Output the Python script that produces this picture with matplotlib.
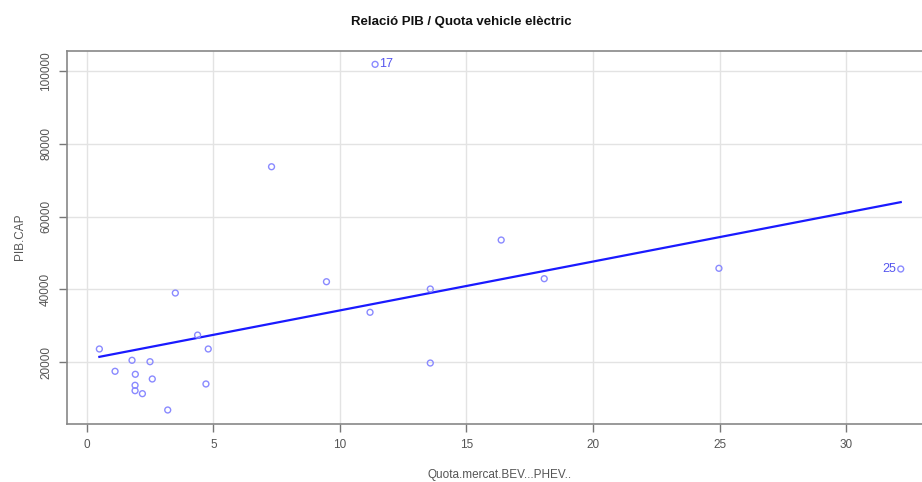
import numpy as np
import matplotlib
matplotlib.use('Agg')
from matplotlib import pyplot as plt

plt.rcParams['font.family'] = ['Liberation Sans', 'DejaVu Sans']

# quota de mercat BEV+PHEV (%) i PIB per capita
quota = [0.50, 1.12, 1.79, 1.92, 1.91, 1.91, 2.20, 2.50, 2.59, 3.20, 3.50, 4.38,
         4.80, 4.71, 7.30, 9.47, 11.19, 11.39, 13.57, 13.57, 16.37, 18.07, 24.97, 32.15]
pib_cap = [23650, 17530, 20550, 16710, 13690, 12210, 11390, 20160, 15420, 6910, 39010, 27470,
           23650, 14050, 73660, 42110, 33720, 101760, 40110, 19800, 53550, 42940, 45790, 45600]
# punts etiquetats: (posicio a les llistes, text, costat)
etiquetes = [(17, '17', 'right'), (23, '25', 'left')]

x_ticks = [0, 5, 10, 15, 20, 25, 30]
y_ticks = [20000, 40000, 60000, 80000, 100000]

quota = np.array(quota)
pib_cap = np.array(pib_cap)

figure = plt.figure(figsize=(9.22, 4.82), dpi=100)
axes = figure.add_axes([0.073, 0.1207, 0.9387, 0.7745])

gray_grid = '#e3e3e3'
for t in x_ticks:
    axes.axvline(t, color=gray_grid, lw=1, zorder=0)
for t in y_ticks:
    axes.axhline(t, color=gray_grid, lw=1, zorder=0)

axes.scatter(quota, pib_cap, s=18, facecolors='none', edgecolors='#8a8aff', linewidths=1, zorder=3)

# recta de regressio
slope, intercept = np.polyfit(quota, pib_cap, 1)
xs = np.array([quota.min(), quota.max()])
axes.plot(xs, intercept + slope * xs, color='#1a1aff', lw=1.6, zorder=2)

for pos, text, side in etiquetes:
    xv, yv = quota[pos], pib_cap[pos]
    if side == 'right':
        axes.annotate(text, (xv, yv), xytext=(3, 0), textcoords='offset points',
                      ha='left', va='center', color='#5555ee', fontsize=9)
    else:
        axes.annotate(text, (xv, yv), xytext=(-3, 0), textcoords='offset points',
                      ha='right', va='center', color='#5555ee', fontsize=9)

pad_x = 0.04 * (quota.max() - quota.min())
pad_y = 0.04 * (pib_cap.max() - pib_cap.min())
axes.set_xlim(quota.min() - pad_x, quota.max() + pad_x)
axes.set_ylim(pib_cap.min() - pad_y, pib_cap.max() + pad_y)

axes.set_xticks(x_ticks)
axes.set_yticks(y_ticks)
axes.set_xticklabels([str(t) for t in x_ticks])
axes.set_yticklabels([str(t) for t in y_ticks], rotation=90, va='center')
axes.tick_params(axis='both', colors='#777777', labelcolor='#555555', labelsize=8.5,
                 length=6, width=1, pad=5)

for spine in axes.spines.values():
    spine.set_color('#888888')
    spine.set_linewidth(1.2)

axes.set_xlabel('Quota.mercat.BEV...PHEV..', color='#555555', fontsize=8.5, labelpad=13)
axes.set_ylabel('PIB.CAP', color='#555555', fontsize=8.5, labelpad=10)
figure.text(0.5, 0.955, 'Relació PIB / Quota vehicle elèctric', ha='center', va='center',
            fontsize=9.5, fontweight='bold', color='#111111')

figure.savefig('out.png', dpi=100)
